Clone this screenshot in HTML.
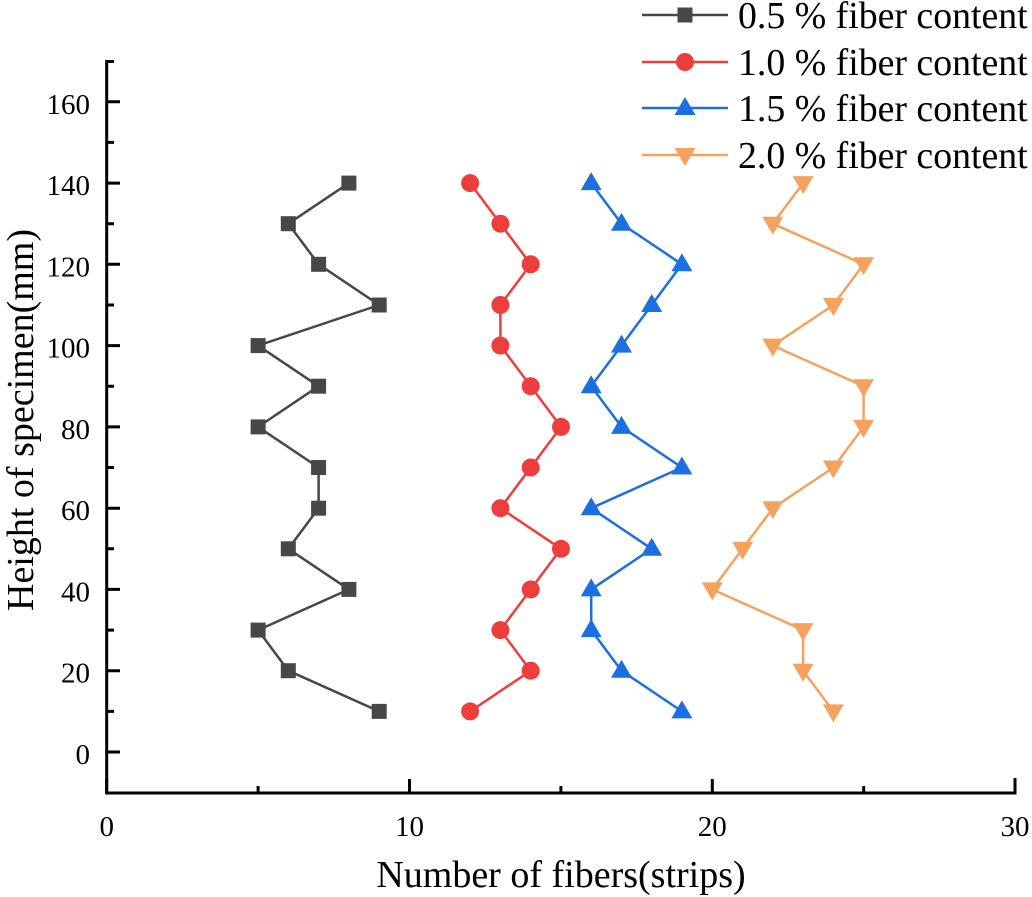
<!DOCTYPE html>
<html>
<head>
<meta charset="utf-8">
<style>
  html, body { margin: 0; padding: 0; background: #ffffff; }
  svg { display: block; }
  text { font-family: "Liberation Serif", "Times New Roman", serif; fill: #000; }
</style>
</head>
<body>
<svg xmlns="http://www.w3.org/2000/svg" width="1032" height="897" viewBox="0 0 1032 897">
  <rect width="1032" height="897" fill="#fff"/>
  <!-- axes -->
  <g stroke="#000" stroke-width="3" fill="none" stroke-linecap="butt">
    <path d="M106.7 60 L106.7 793 L1016.5 793"/>
    <!-- y major ticks -->
    <path d="M106.7 752 H120 M106.7 670.7 H120 M106.7 589.4 H120 M106.7 508.2 H120 M106.7 426.9 H120 M106.7 345.6 H120 M106.7 264.3 H120 M106.7 183.1 H120 M106.7 101.8 H120"/>
    <!-- y minor ticks -->
    <path d="M106.7 711.4 H114 M106.7 630.1 H114 M106.7 548.8 H114 M106.7 467.5 H114 M106.7 386.2 H114 M106.7 305 H114 M106.7 223.7 H114 M106.7 142.4 H114 M106.7 61.5 H114"/>
    <!-- x major ticks -->
    <path d="M106.7 793 V779 M409.5 793 V779 M712.3 793 V779 M1015 793 V778"/>
    <!-- x minor ticks -->
    <path d="M258.1 793 V786 M560.9 793 V786 M863.7 793 V786"/>
  </g>
  <!-- y tick labels -->
  <g font-size="29" text-anchor="end">
    <text x="90" y="764">0</text>
    <text x="90" y="682.7">20</text>
    <text x="90" y="601.4">40</text>
    <text x="90" y="520.2">60</text>
    <text x="90" y="438.9">80</text>
    <text x="90" y="357.6">100</text>
    <text x="90" y="276.3">120</text>
    <text x="90" y="195.1">140</text>
    <text x="90" y="113.8">160</text>
  </g>
  <!-- x tick labels -->
  <g font-size="29" text-anchor="middle">
    <text x="106.7" y="836">0</text>
    <text x="409.5" y="836">10</text>
    <text x="712.3" y="836">20</text>
    <text x="1015" y="836">30</text>
  </g>
  <!-- axis titles -->
  <text x="561" y="887" font-size="38" text-anchor="middle">Number of fibers(strips)</text>
  <text transform="translate(33,420) rotate(-90)" font-size="38" text-anchor="middle">Height of specimen(mm)</text>

  <!-- series 0.5% -->
  <polyline fill="none" stroke="#474747" stroke-width="2.5" stroke-linejoin="round"
    points="348.9,183.1 288.3,223.7 318.6,264.3 379.2,305 258.1,345.6 318.6,386.2 258.1,426.9 318.6,467.5 318.6,508.2 288.3,548.8 348.9,589.4 258.1,630.1 288.3,670.7 379.2,711.4"/>
  <g fill="#474747">
    <rect x="341.4" y="175.6" width="15" height="15"/>
    <rect x="280.8" y="216.2" width="15" height="15"/>
    <rect x="311.1" y="256.8" width="15" height="15"/>
    <rect x="371.7" y="297.5" width="15" height="15"/>
    <rect x="250.6" y="338.1" width="15" height="15"/>
    <rect x="311.1" y="378.7" width="15" height="15"/>
    <rect x="250.6" y="419.4" width="15" height="15"/>
    <rect x="311.1" y="460" width="15" height="15"/>
    <rect x="311.1" y="500.7" width="15" height="15"/>
    <rect x="280.8" y="541.3" width="15" height="15"/>
    <rect x="341.4" y="581.9" width="15" height="15"/>
    <rect x="250.6" y="622.6" width="15" height="15"/>
    <rect x="280.8" y="663.2" width="15" height="15"/>
    <rect x="371.7" y="703.9" width="15" height="15"/>
  </g>

  <!-- series 1.0% -->
  <polyline fill="none" stroke="#ee3d3d" stroke-width="2.5" stroke-linejoin="round"
    points="470.1,183.1 500.4,223.7 530.7,264.3 500.4,305 500.4,345.6 530.7,386.2 561,426.9 530.7,467.5 500.4,508.2 561,548.8 530.7,589.4 500.4,630.1 530.7,670.7 470.1,711.4"/>
  <g fill="#ee3d3d">
    <circle cx="470.1" cy="183.1" r="9"/>
    <circle cx="500.4" cy="223.7" r="9"/>
    <circle cx="530.7" cy="264.3" r="9"/>
    <circle cx="500.4" cy="305" r="9"/>
    <circle cx="500.4" cy="345.6" r="9"/>
    <circle cx="530.7" cy="386.2" r="9"/>
    <circle cx="561" cy="426.9" r="9"/>
    <circle cx="530.7" cy="467.5" r="9"/>
    <circle cx="500.4" cy="508.2" r="9"/>
    <circle cx="561" cy="548.8" r="9"/>
    <circle cx="530.7" cy="589.4" r="9"/>
    <circle cx="500.4" cy="630.1" r="9"/>
    <circle cx="530.7" cy="670.7" r="9"/>
    <circle cx="470.1" cy="711.4" r="9"/>
  </g>

  <!-- series 1.5% -->
  <polyline fill="none" stroke="#1c6fe0" stroke-width="2.5" stroke-linejoin="round"
    points="591.2,183.1 621.5,223.7 681.9,264.3 651.7,305 621.5,345.6 591.2,386.2 621.5,426.9 681.9,467.5 591.2,508.2 651.7,548.8 591.2,589.4 591.2,630.1 621.5,670.7 681.9,711.4"/>
  <g fill="#1c6fe0">
    <path d="M591.2,172.1 l10.5,18 h-21 z"/>
    <path d="M621.5,212.7 l10.5,18 h-21 z"/>
    <path d="M681.9,253.3 l10.5,18 h-21 z"/>
    <path d="M651.7,294 l10.5,18 h-21 z"/>
    <path d="M621.5,334.6 l10.5,18 h-21 z"/>
    <path d="M591.2,375.2 l10.5,18 h-21 z"/>
    <path d="M621.5,415.9 l10.5,18 h-21 z"/>
    <path d="M681.9,456.5 l10.5,18 h-21 z"/>
    <path d="M591.2,497.2 l10.5,18 h-21 z"/>
    <path d="M651.7,537.8 l10.5,18 h-21 z"/>
    <path d="M591.2,578.4 l10.5,18 h-21 z"/>
    <path d="M591.2,619.1 l10.5,18 h-21 z"/>
    <path d="M621.5,659.7 l10.5,18 h-21 z"/>
    <path d="M681.9,700.4 l10.5,18 h-21 z"/>
  </g>

  <!-- series 2.0% -->
  <polyline fill="none" stroke="#f4a25e" stroke-width="2.5" stroke-linejoin="round"
    points="803.1,183.1 772.8,223.7 863.6,264.3 833.4,305 772.8,345.6 863.6,386.2 863.6,426.9 833.4,467.5 772.8,508.2 742.6,548.8 712.3,589.4 803.1,630.1 803.1,670.7 833.4,711.4"/>
  <g fill="#f4a25e">
    <path d="M803.1,194.1 l10.5,-18 h-21 z"/>
    <path d="M772.8,234.7 l10.5,-18 h-21 z"/>
    <path d="M863.6,275.3 l10.5,-18 h-21 z"/>
    <path d="M833.4,316 l10.5,-18 h-21 z"/>
    <path d="M772.8,356.6 l10.5,-18 h-21 z"/>
    <path d="M863.6,397.2 l10.5,-18 h-21 z"/>
    <path d="M863.6,437.9 l10.5,-18 h-21 z"/>
    <path d="M833.4,478.5 l10.5,-18 h-21 z"/>
    <path d="M772.8,519.2 l10.5,-18 h-21 z"/>
    <path d="M742.6,559.8 l10.5,-18 h-21 z"/>
    <path d="M712.3,600.4 l10.5,-18 h-21 z"/>
    <path d="M803.1,641.1 l10.5,-18 h-21 z"/>
    <path d="M803.1,681.7 l10.5,-18 h-21 z"/>
    <path d="M833.4,722.4 l10.5,-18 h-21 z"/>
  </g>

  <!-- legend -->
  <g stroke-width="2.5">
    <line x1="642" y1="15" x2="728" y2="15" stroke="#474747"/>
    <line x1="642" y1="62" x2="728" y2="62" stroke="#ee3d3d"/>
    <line x1="642" y1="108" x2="728" y2="108" stroke="#1c6fe0"/>
    <line x1="642" y1="155" x2="728" y2="155" stroke="#f4a25e"/>
  </g>
  <rect x="677.5" y="7.5" width="15" height="15" fill="#474747"/>
  <circle cx="685" cy="62" r="9" fill="#ee3d3d"/>
  <path d="M685,97 l10.5,18 h-21 z" fill="#1c6fe0"/>
  <path d="M685,166 l10.5,-18 h-21 z" fill="#f4a25e"/>
  <g font-size="37.8">
    <text x="738" y="28">0.5 % fiber content</text>
    <text x="738" y="75">1.0 % fiber content</text>
    <text x="738" y="121">1.5 % fiber content</text>
    <text x="738" y="168">2.0 % fiber content</text>
  </g>
</svg>
</body>
</html>
